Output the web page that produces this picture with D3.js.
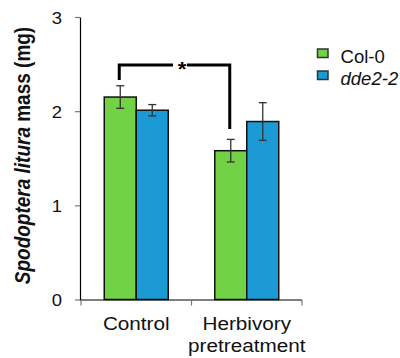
<!DOCTYPE html>
<html>
<head>
<meta charset="utf-8">
<script src="https://cdn.jsdelivr.net/npm/d3@7"></script>
<style>
  html, body { margin: 0; padding: 0; background: #fff; }
  text { font-family: "Liberation Sans", Arial, sans-serif; }
</style>
</head>
<body>
<svg id="chart" width="400" height="358"></svg>
<script>
// ---- data ----
const categories = ["Control", "Herbivory pretreatment"];
const categoryLines = [["Control"], ["Herbivory", "pretreatment"]];
const series = ["Col-0", "dde2-2"];
const seriesItalic = [false, true];
const colors = ["#70D244", "#1B9AD6"];
const col0Means = [2.15, 1.58];
const col0Errors = [0.12, 0.12];
const dde2Means = [2.01, 1.89];
const dde2Errors = [0.06, 0.20];
const yTicks = [0, 1, 2, 3];
const yDomain = [0, 3];
// significance bracket: Col-0 Control vs Col-0 Herbivory
const sigLabel = "*";
const sigTop = 2.49, sigLeftEnd = 2.33, sigRightEnd = 1.81;

(function () {
// ---- layout ----
const svg = d3.select("#chart");
const SX = 1.12; // horizontal text stretch
const mLeft = 80, mRight = 302, mTop = 17, mBottom = 299.5;
const groupW = 64;

const y = d3.scaleLinear().domain(yDomain).range([mBottom, mTop]);
const x0 = d3.scaleBand().domain(categories).range([mLeft + 1, mRight]);
const x1 = d3.scaleBand().domain(series).range([0, groupW]);
const groupOffset = (x0.bandwidth() - groupW) / 2;

const means = [col0Means, dde2Means];
const errs = [col0Errors, dde2Errors];
const rows = [];
categories.forEach((c, ci) => series.forEach((s, si) => {
  rows.push({cat: c, ser: s, si, v: means[si][ci], e: errs[si][ci]});
}));
const barX = d => x0(d.cat) + groupOffset + x1(d.ser);

// bars
svg.append("g").selectAll("rect").data(rows).join("rect")
  .attr("x", barX)
  .attr("y", d => y(d.v))
  .attr("width", x1.bandwidth())
  .attr("height", d => y(0) - y(d.v))
  .attr("fill", d => colors[d.si])
  .attr("stroke", "#111")
  .attr("stroke-width", 1.5);

// error bars
const eg = svg.append("g").attr("stroke", "#333").attr("stroke-width", 1.3);
rows.forEach(d => {
  const cx = barX(d) + x1.bandwidth() / 2;
  eg.append("line").attr("x1", cx).attr("x2", cx).attr("y1", y(d.v + d.e)).attr("y2", y(d.v - d.e));
  eg.append("line").attr("x1", cx - 4).attr("x2", cx + 4).attr("y1", y(d.v + d.e)).attr("y2", y(d.v + d.e));
  eg.append("line").attr("x1", cx - 4).attr("x2", cx + 4).attr("y1", y(d.v - d.e)).attr("y2", y(d.v - d.e));
});

// axes
const yAxis = svg.append("g").attr("transform", `translate(${mLeft},0)`)
  .call(d3.axisLeft(y).tickValues(yTicks).tickSize(5).tickSizeOuter(0).tickFormat(d3.format("d")));
yAxis.select(".domain").attr("stroke", "#000").attr("stroke-width", 1.2);
yAxis.selectAll(".tick line").attr("stroke", "#777").attr("stroke-width", 1.2);
yAxis.selectAll(".tick text")
  .attr("x", 0).attr("dy", null)
  .attr("transform", `translate(-18,6) scale(${SX},1)`)
  .attr("font-size", 16.5).attr("fill", "#111").attr("font-family", null);

svg.append("line").attr("x1", mLeft).attr("x2", mRight).attr("y1", mBottom + 0.5).attr("y2", mBottom + 0.5)
  .attr("stroke", "#000").attr("stroke-width", 1.2);
// band boundary ticks
const boundaries = [x0.range()[0]].concat(categories.map(c => x0(c) + x0.bandwidth()));
svg.append("g").selectAll("line").data(boundaries).join("line")
  .attr("x1", d => d).attr("x2", d => d).attr("y1", mBottom + 0.5).attr("y2", mBottom + 6)
  .attr("stroke", "#777").attr("stroke-width", 1.2);

// category labels
categories.forEach((c, ci) => {
  const cx = x0(c) + x0.bandwidth() / 2;
  categoryLines[ci].forEach((ln, li) => {
    svg.append("text")
      .attr("transform", `translate(${cx},${329.5 + li * 22}) scale(${SX},1)`)
      .attr("text-anchor", "middle").attr("font-size", 18.5).attr("fill", "#111")
      .text(ln);
  });
});

// y label
const yl = svg.append("text")
  .attr("transform", `translate(30,155.5) scale(${SX},1) rotate(-90)`)
  .attr("text-anchor", "middle").attr("font-size", 19).attr("font-weight", "bold").attr("fill", "#111");
yl.append("tspan").attr("font-style", "italic").text("Spodoptera litura");
yl.append("tspan").text(" mass (mg)");

// significance bracket
const lx = x0(categories[0]) + groupOffset + x1(series[0]) + x1.bandwidth() / 2 - 1;
const rx = x0(categories[1]) + groupOffset + x1(series[0]) + x1.bandwidth() / 2 - 1;
const midX = 180;
const bg = svg.append("g").attr("stroke", "#000").attr("stroke-width", 3).attr("fill", "none");
bg.append("path").attr("d", `M${lx},${y(sigLeftEnd)}V${y(sigTop)}H${midX - 7}`);
bg.append("path").attr("d", `M${midX + 7},${y(sigTop)}H${rx}V${y(sigRightEnd)}`);
svg.append("text")
  .attr("transform", `translate(${midX + 2},${y(sigTop) + 11}) scale(${SX},1)`)
  .attr("text-anchor", "middle").attr("font-size", 20).attr("font-weight", "bold").attr("fill", "#000")
  .text(sigLabel);

// legend
const lg = svg.append("g");
series.forEach((s, si) => {
  const ly = 49 + si * 22;
  lg.append("rect").attr("x", 317.5).attr("y", ly).attr("width", 10.5).attr("height", 8.5)
    .attr("fill", colors[si]).attr("stroke", "#333").attr("stroke-width", 1.5);
  lg.append("text")
    .attr("transform", `translate(340.5,${ly + 13.5}) scale(1.06,1)`)
    .attr("font-size", 17.5).attr("fill", "#111")
    .attr("font-style", seriesItalic[si] ? "italic" : null)
    .text(s);
});
})();
</script>
</body>
</html>
